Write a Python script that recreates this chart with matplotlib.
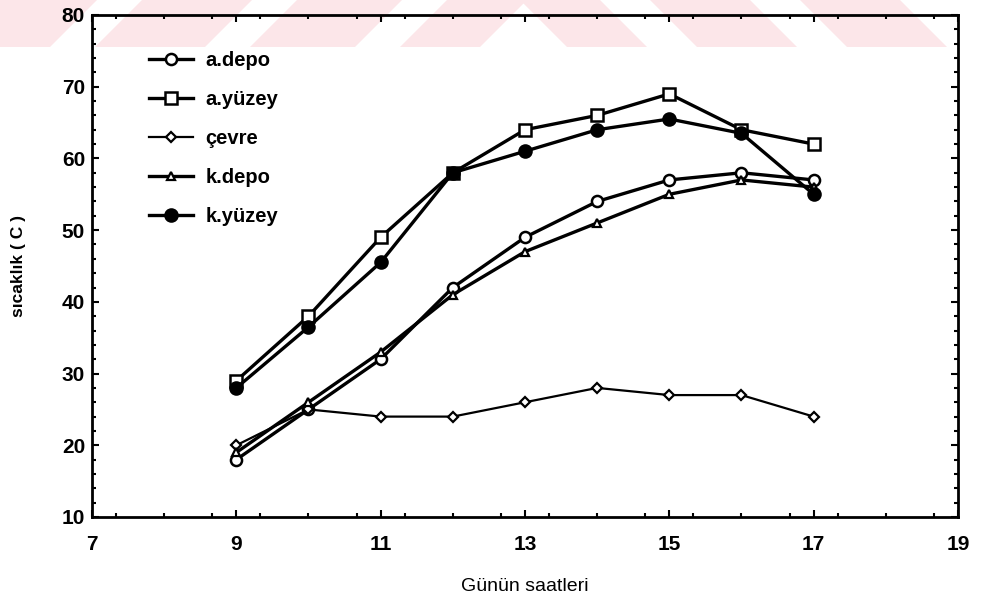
import matplotlib
matplotlib.use("Agg")
import matplotlib.pyplot as plt
from matplotlib.patches import Polygon
from matplotlib.ticker import MultipleLocator

hours = [9, 10, 11, 12, 13, 14, 15, 16, 17]
a_depo = [18, 25, 32, 42, 49, 54, 57, 58, 57]
a_yuzey = [29, 38, 49, 58, 64, 66, 69, 64, 62]
cevre = [20, 25, 24, 24, 26, 28, 27, 27, 24]
k_depo = [19, 26, 33, 41, 47, 51, 55, 57, 56]
k_yuzey = [28, 36.5, 45.5, 58, 61, 64, 65.5, 63.5, 55]
labels = ["a.depo", "a.yüzey", "çevre", "k.depo", "k.yüzey"]
xticks = [7, 9, 11, 13, 15, 17, 19]
yticks = [10, 20, 30, 40, 50, 60, 70, 80]

plt.rcParams['font.family'] = ['Liberation Sans', 'DejaVu Sans']

W, H = 981, 608
fig = plt.figure(figsize=(W / 100, H / 100), dpi=100)

# watermark band (pale pink slanted stripes at the top)
band = 47
def fig_poly(pts):
    return [(x / W, 1 - y / H) for x, y in pts]
left_bottoms = [(-60, 50), (95, 205), (250, 355), (400, 480)]
for a, b in left_bottoms:
    pts = [(a, band), (b, band), (b + band, 0), (a + band, 0)]
    fig.patches.append(Polygon(fig_poly(pts), closed=True, transform=fig.transFigure,
                               facecolor='#fce6e9', edgecolor='none', zorder=-5))
right_tops = [(520, 600), (650, 750), (800, 900)]
for a, b in right_tops:
    pts = [(a, 0), (b, 0), (b + band, band), (a + band, band)]
    fig.patches.append(Polygon(fig_poly(pts), closed=True, transform=fig.transFigure,
                               facecolor='#fce6e9', edgecolor='none', zorder=-5))

ax = fig.add_axes([92 / W, 1 - 517 / H, (958 - 92) / W, (517 - 15) / H])
ax.patch.set_alpha(0)

ms_kw = dict(color='black', markeredgecolor='black')
ax.plot(hours, a_depo, '-o', lw=2.4, ms=8, markerfacecolor='white', markeredgewidth=1.8, label=labels[0], **ms_kw)
ax.plot(hours, a_yuzey, '-s', lw=2.4, ms=9, markerfacecolor='white', markeredgewidth=1.8, label=labels[1], **ms_kw)
ax.plot(hours, cevre, '-D', lw=1.6, ms=5, markerfacecolor='white', markeredgewidth=1.6, label=labels[2], **ms_kw)
ax.plot(hours, k_depo, '-^', lw=2.4, ms=6, markerfacecolor='white', markeredgewidth=1.6, label=labels[3], **ms_kw)
ax.plot(hours, k_yuzey, '-o', lw=2.4, ms=9, markerfacecolor='black', markeredgewidth=1.5, label=labels[4], **ms_kw)

ax.set_xlim(7, 19)
ax.set_ylim(10, 80)
ax.set_xticks(xticks)
ax.set_yticks(yticks)
ax.xaxis.set_minor_locator(MultipleLocator(2 / 3))
ax.yaxis.set_minor_locator(MultipleLocator(2))
ax.tick_params(which='both', direction='in', top=True, right=True, width=1.5, colors='black')
ax.tick_params(which='major', length=5, labelsize=15)
ax.tick_params(axis='x', which='major', pad=13)
ax.tick_params(axis='y', which='major', pad=5)
ax.tick_params(which='minor', length=3)
for lab in ax.get_xticklabels() + ax.get_yticklabels():
    lab.set_fontweight('bold')
for s in ax.spines.values():
    s.set_linewidth(2.0)

ax.set_xlabel("Günün saatleri", fontsize=14, labelpad=17)
ax.set_ylabel("sıcaklık ( C )", fontsize=12.5, fontweight='bold', labelpad=26)

leg = ax.legend(loc='upper left', bbox_to_anchor=(0.045, 0.965), frameon=False,
                handlelength=2.2, labelspacing=1.0, handletextpad=0.6,
                prop={'size': 14.5, 'weight': 'bold'})

fig.savefig("out.png", dpi=100)
